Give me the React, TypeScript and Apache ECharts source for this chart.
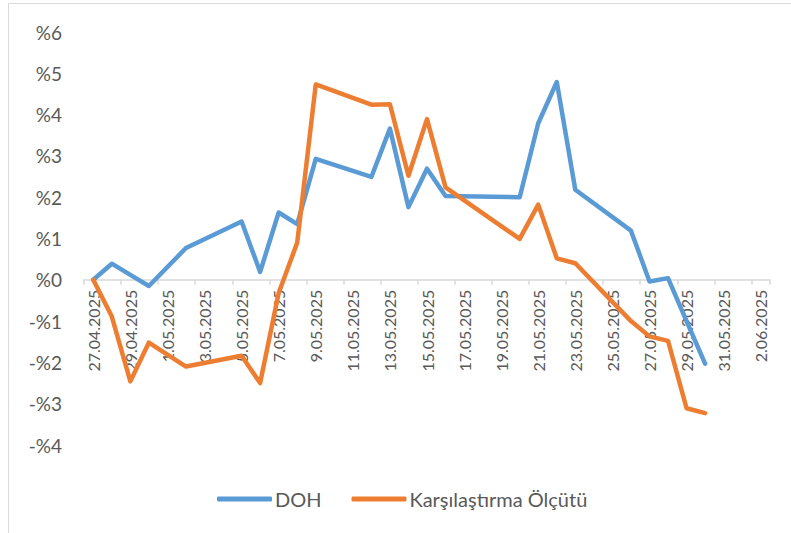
import React, { useEffect, useRef } from "react";
import * as echarts from "echarts";

const categories: string[] = [
  "27.04.2025", "28.04.2025", "29.04.2025", "30.04.2025", "1.05.2025", "2.05.2025",
  "3.05.2025", "4.05.2025", "5.05.2025", "6.05.2025", "7.05.2025", "8.05.2025",
  "9.05.2025", "10.05.2025", "11.05.2025", "12.05.2025", "13.05.2025", "14.05.2025",
  "15.05.2025", "16.05.2025", "17.05.2025", "18.05.2025", "19.05.2025", "20.05.2025",
  "21.05.2025", "22.05.2025", "23.05.2025", "24.05.2025", "25.05.2025", "26.05.2025",
  "27.05.2025", "28.05.2025", "29.05.2025", "30.05.2025", "31.05.2025", "1.06.2025",
  "2.06.2025",
];

const doh: (number | null)[] = [
  0, 0.39, 0.12, -0.15, null, 0.77,
  null, null, 1.41, 0.19, 1.63, 1.35,
  2.93, null, null, 2.49, 3.66, 1.76,
  2.69, 2.03, null, null, null, 2.0,
  3.79, 4.79, 2.18, null, null, 1.19,
  -0.04, 0.04, -1.0, -2.03, null, null,
  null,
];

const benchmark: (number | null)[] = [
  0, -0.89, -2.46, -1.52, null, -2.1,
  null, null, -1.84, -2.5, -0.32, 0.9,
  4.73, null, null, 4.24, 4.25, 2.52,
  3.89, 2.24, null, null, null, 0.99,
  1.82, 0.52, 0.4, null, null, -1.0,
  -1.37, -1.48, -3.11, -3.23, null, null,
  null,
];

const seriesNames = ["DOH", "Karşılaştırma Ölçütü"];
const FONT = "Lato";
const TEXT = "#595959";
const Y_MIN = -4;
const Y_MAX = 6;
const GRID_H = 413;

export default function App() {
  const ref = useRef<HTMLDivElement>(null);
  useEffect(() => {
    if (!ref.current) return;
    const chart = echarts.init(ref.current, undefined, { renderer: "svg" });
    const zeroOffset = -(GRID_H * (0 - Y_MIN)) / (Y_MAX - Y_MIN);
    chart.setOption({
      animation: false,
      backgroundColor: "#ffffff",
      graphic: [
        {
          type: "rect",
          shape: { x: 8.5, y: 3.5, width: 800, height: 600 },
          style: { fill: "none", stroke: "#D9D9D9", lineWidth: 1 },
          silent: true,
        },
      ],
      grid: { left: 84, width: 686, top: 32, height: GRID_H, containLabel: false },
      legend: {
        top: 484,
        left: 212,
        icon: "roundRect",
        itemWidth: 55,
        itemHeight: 5,
        itemGap: 30,
        textStyle: { fontFamily: FONT, fontSize: 20, color: TEXT, padding: [0, 0, 0, -2] },
        data: seriesNames,
      },
      xAxis: {
        type: "category",
        data: categories,
        boundaryGap: true,
        offset: zeroOffset,
        axisLine: { onZero: false, lineStyle: { color: "#D9D9D9", width: 1.5 } },
        axisTick: { show: true, interval: 1, length: 5, lineStyle: { color: "#D9D9D9", width: 1.5 } },
        axisLabel: {
          interval: 1,
          rotate: 90,
          margin: 10,
          fontFamily: FONT,
          fontSize: 16,
          color: TEXT,
        },
        splitLine: { show: false },
      },
      yAxis: {
        type: "value",
        min: Y_MIN,
        max: Y_MAX,
        interval: 1,
        axisLine: { show: false },
        axisTick: { show: false },
        splitLine: { show: false },
        axisLabel: {
          margin: 22,
          fontFamily: FONT,
          fontSize: 19,
          color: TEXT,
          formatter: (v: number) => (v < 0 ? "-%" + -v : "%" + v),
        },
      },
      series: [
        {
          name: seriesNames[0],
          type: "line",
          data: doh,
          connectNulls: true,
          symbol: "none",
          itemStyle: { color: "#5B9BD5" },
          lineStyle: { color: "#5B9BD5", width: 4.5, cap: "round", join: "round" },
        },
        {
          name: seriesNames[1],
          type: "line",
          data: benchmark,
          connectNulls: true,
          symbol: "none",
          itemStyle: { color: "#ED7D31" },
          lineStyle: { color: "#ED7D31", width: 4.5, cap: "round", join: "round" },
        },
      ],
    });
    return () => chart.dispose();
  }, []);
  return (
    <div
      ref={ref}
      style={{ position: "fixed", left: 0, top: 0, width: 791, height: 533 }}
    />
  );
}
